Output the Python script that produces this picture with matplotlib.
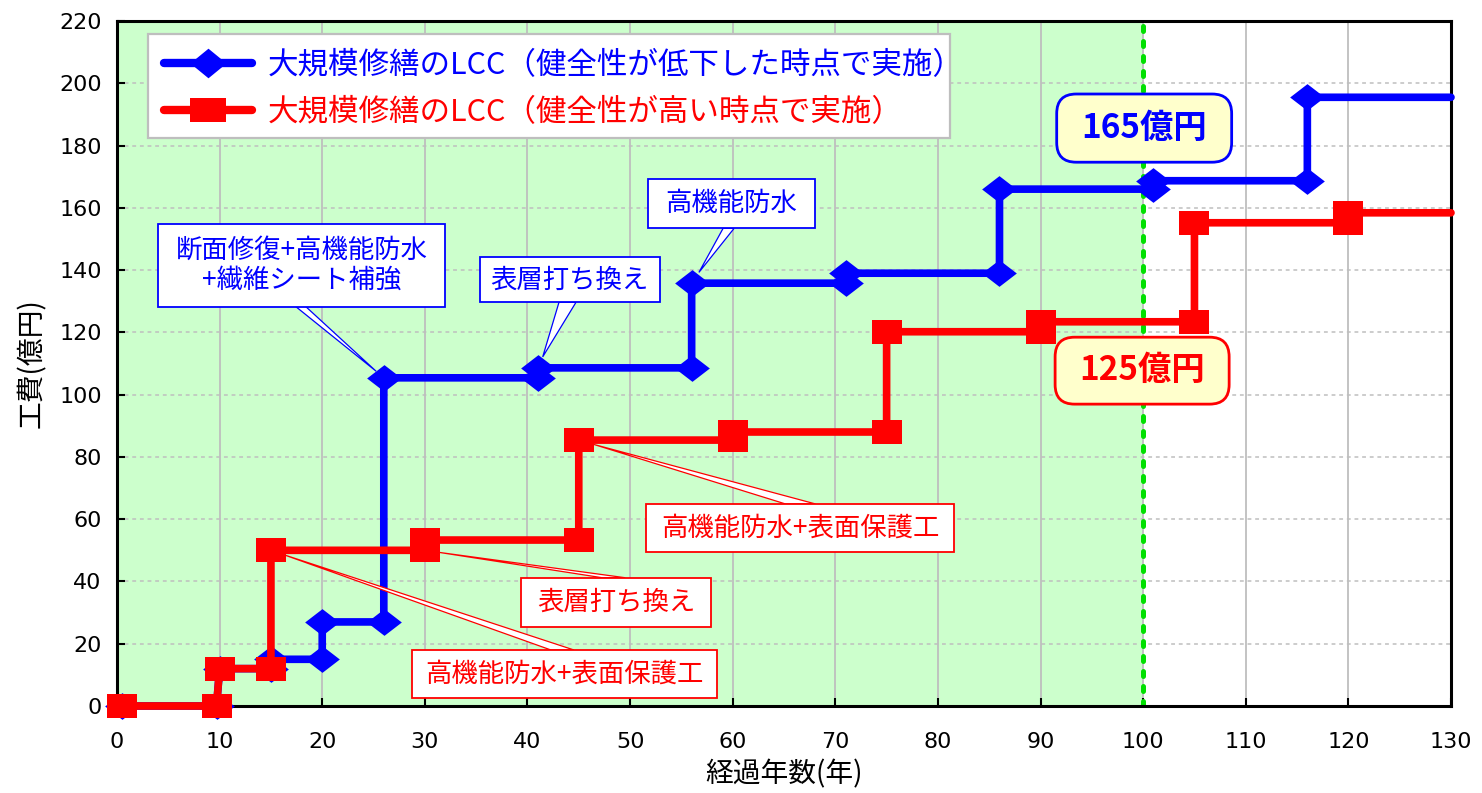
import math
import matplotlib
matplotlib.use("Agg")
import matplotlib.pyplot as plt
from matplotlib.lines import Line2D
from matplotlib.patches import Rectangle, FancyBboxPatch, Polygon

plt.rcParams['font.family'] = ['Noto Sans CJK JP', 'DejaVu Sans']

# ---- data: cumulative cost (億円) vs elapsed years ----
blue_label = '大規模修繕のLCC（健全性が低下した時点で実施）'
blue_x = [0.5, 9.7, 10, 15, 15, 20, 20, 26, 26, 41, 41, 56, 56, 71, 71,
          86, 86, 101, 101, 116, 116, 130]
blue_y = [0, 0, 12, 12, 15, 15, 27, 27, 105.4, 105.4, 108.6, 108.6, 135.8,
          135.8, 139, 139, 166, 166, 168.7, 168.7, 195.5, 195.5]

red_label = '大規模修繕のLCC（健全性が高い時点で実施）'
red_x = [0.5, 9.7, 10, 15, 15, 30, 30, 45, 45, 60, 60, 75, 75, 90, 90,
         105, 105, 120, 120, 130]
red_y = [0, 0, 12, 12, 50, 50, 53.3, 53.3, 85.4, 85.4, 88, 88, 120.2, 120.2,
         123.4, 123.4, 155.2, 155.2, 158.4, 158.4]

x_ticks = list(range(0, 131, 10))
y_ticks = list(range(0, 221, 20))
service_life = 100
blue_total = '165億円'
red_total = '125億円'

BLUE = '#0000FF'
RED = '#FF0000'

fig = plt.figure(figsize=(14.82, 7.93), dpi=100)
ax = fig.add_axes([117 / 1482, 87 / 793, 1334 / 1482, 685 / 793])
ax.set_xlim(0, 130)
ax.set_ylim(0, 220)

# shaded design-life period
ax.axvspan(0, service_life, color='#CCFFCC', zorder=0, lw=0)

ax.set_axisbelow(True)
ax.xaxis.grid(True, color='#BEBEBE', lw=1.3, ls='-')
ax.yaxis.grid(True, color='#BEBEBE', lw=1.1, ls=(0, (2.5, 2.5)))

ax.axvline(service_life, color='#00E000', lw=3.6, ls=(0, (1.0, 2.0)),
           dash_capstyle='round', zorder=1.5)

diamond = [(-1, 0), (0, 0.77), (1, 0), (0, -0.77)]
square = [(-1, -0.79), (1, -0.79), (1, 0.79), (-1, 0.79)]

ax.plot(blue_x, blue_y, color=BLUE, lw=5.5, marker=diamond, ms=25,
        markevery=list(range(len(blue_x) - 1)), mec=BLUE, mfc=BLUE, mew=0,
        solid_capstyle='round', solid_joinstyle='miter', clip_on=False,
        zorder=3)
ax.plot(red_x, red_y, color=RED, lw=5.5, marker=square, ms=21,
        markevery=list(range(len(red_x) - 1)), mec=RED, mfc=RED, mew=0,
        solid_capstyle='round', solid_joinstyle='miter', clip_on=False,
        zorder=4)

# axes styling
for s in ax.spines.values():
    s.set_linewidth(2.2)
    s.set_color('black')
ax.set_xticks(x_ticks)
ax.set_yticks(y_ticks)
ax.tick_params(axis='both', direction='in', length=6, width=1.5,
               labelsize=16)
ax.tick_params(axis='x', pad=19)
ax.tick_params(axis='y', pad=11)
for lbl in ax.get_xticklabels() + ax.get_yticklabels():
    lbl.set_fontfamily('DejaVu Sans')

ax.set_xlabel('経過年数(年)', fontsize=20, labelpad=5)
ax.set_ylabel('工費(億円)', fontsize=20, labelpad=9)

# legend (frame drawn separately so it hugs the text)
leg_diamond = [(-1, 0), (0, 0.82), (1, 0), (0, -0.82)]
leg_square = [(-1, -0.64), (1, -0.64), (1, 0.64), (-1, 0.64)]
handles = [
    Line2D([], [], color=BLUE, lw=6, marker=leg_diamond, ms=26, mew=0,
           solid_capstyle='round'),
    Line2D([], [], color=RED, lw=6, marker=leg_square, ms=26, mew=0,
           solid_capstyle='round'),
]
leg = ax.legend(handles, [blue_label, red_label], loc='upper left',
                bbox_to_anchor=(150 / 1482, 1 - 36 / 793),
                bbox_transform=fig.transFigure, borderaxespad=0,
                fontsize=22, handlelength=2.9, handletextpad=0.5,
                labelspacing=0.52, borderpad=0.45, frameon=False,
                labelcolor='linecolor')
leg.set_zorder(8)
ax.add_patch(Rectangle((148 / 1482, 1 - 138 / 793), 802 / 1482, 104 / 793,
                       transform=fig.transFigure, fc='white', ec='#BEBEBE',
                       lw=1.6, zorder=7.9, clip_on=False))


def wedge(base_x, base_y, base_w_px, tip, shrink_px, color):
    """Thin triangular pointer from a label edge towards a data point."""
    tx, ty = ax.transData.transform(tip)
    bx, by = ax.transData.transform((base_x, base_y))
    d = math.hypot(bx - tx, by - ty)
    sx = tx + (bx - tx) / d * shrink_px
    sy = ty + (by - ty) / d * shrink_px
    pts = ax.transData.inverted().transform(
        [(bx - base_w_px / 2, by), (bx + base_w_px / 2, by), (sx, sy)])
    ax.add_patch(Polygon(pts, closed=True, fc='white', ec=color, lw=0.9,
                         zorder=5))


def callout(cx, cy, w, h, text, color, base_x, base_side, base_w, tip,
            shrink):
    """Rectangular label with a wedge pointer to a data point."""
    by = cy - h / 2 if base_side == 'bottom' else cy + h / 2
    wedge(base_x, by, base_w, tip, shrink, color)
    ax.add_patch(Rectangle((cx - w / 2, cy - h / 2), w, h, fc='white',
                           ec=color, lw=1.3, zorder=6))
    ax.text(cx, cy, text, ha='center', va='center', color=color,
            fontsize=19, zorder=7, linespacing=1.15)


callout(17.98, 141.5, 27.97, 26.4, '断面修復+高機能防水\n+繊維シート補強', BLUE,
        17.9, 'bottom', 10, (blue_x[8], blue_y[8]), 10)
callout(44.1, 136.9, 17.54, 14.5, '表層打ち換え', BLUE,
        43.9, 'bottom', 17, (blue_x[10], blue_y[10]), 12)
callout(59.9, 161.3, 16.27, 15.8, '高機能防水', BLUE,
        59.6, 'bottom', 11, (blue_x[12], blue_y[12]), 13)
callout(66.6, 57.2, 30.0, 15.4, '高機能防水+表面保護工', RED,
        66.6, 'top', 30, (red_x[8], red_y[8]), 15)
callout(48.65, 33.3, 18.5, 15.8, '表層打ち換え', RED,
        48.4, 'top', 23, (red_x[5], red_y[5]), 14)
callout(43.6, 10.3, 29.8, 15.4, '高機能防水+表面保護工', RED,
        43.4, 'top', 23, (red_x[4], red_y[4]), 12)


def total_box(cx, cy, w, h, text, color):
    ax.add_patch(FancyBboxPatch((cx - w / 2, cy - h / 2), w, h,
                                boxstyle='round,pad=0,rounding_size=1.9',
                                mutation_aspect=3.3, fc='#FFFFCC', ec=color,
                                lw=2, zorder=6))
    ax.text(cx, cy, text, ha='center', va='center', color=color,
            fontsize=24, fontweight='bold', zorder=7)


total_box(100.1, 185.6, 17.05, 21.9, blue_total, BLUE)
total_box(99.9, 107.7, 16.96, 21.5, red_total, RED)

fig.savefig('out.png', dpi=100)
